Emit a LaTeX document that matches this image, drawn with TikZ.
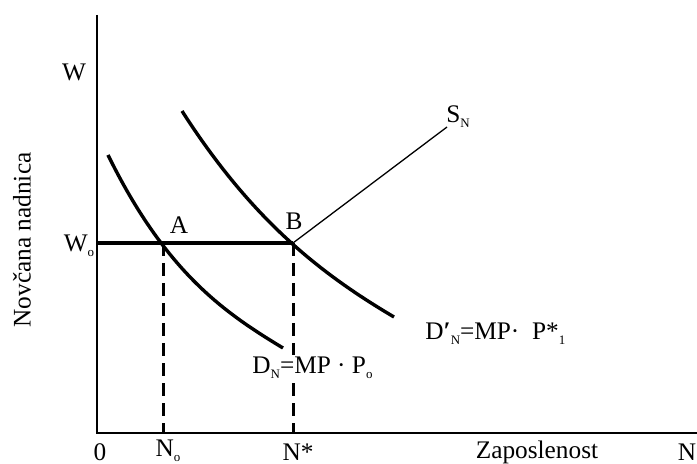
\documentclass[tikz,border=0pt]{standalone}
\usepackage{fontspec}
\setmainfont{Liberation Serif}
\usetikzlibrary{positioning,calc}
\newcommand\subtxt[1]{\raisebox{-0.45ex}{\fontsize{6.5}{6.5}\selectfont #1}}

\begin{document}
\begin{tikzpicture}[
  x=0.5bp, y=-0.5bp,
  font=\fontsize{12.7}{14}\selectfont,
  lbl/.style   = {inner sep=1pt},
  ax/.style    = {line width=1bp},
  dem/.style   = {line width=1.7bp},
  wage/.style  = {line width=2.2bp},
  supl/.style  = {line width=0.65bp},
  guide/.style = {line width=1.5bp, dash pattern=on 6.5bp off 3.5bp},
]
\useasboundingbox (0,0) rectangle (697,464);

% =========================== points ========================================
\coordinate (O)     at (97,433);
\coordinate (ytop)  at (97,15);
\coordinate (xend)  at (697,433);
\coordinate (W0)    at (97,243);
\coordinate (A)     at (163,243);
\coordinate (B)     at (293,243);
\coordinate (No)    at (A|-O);
\coordinate (Ns)    at (B|-O);
\coordinate (snend) at (447,127);

% =========================== axes ==========================================
\draw[ax] (ytop) -- (O) -- (xend);

% =========================== curves ========================================
\draw[guide] (A) -- (No);
\draw[guide] (B) -- (Ns);
\draw[wage] (W0) -- (B);
\draw[dem] (108,155) .. controls (166,273) and (225,313) .. (283,348);
\draw[dem] (182,111) .. controls (253,222) and (323,275) .. (394,317);
\draw[supl] (B) -- (snend);

% =========================== labels ========================================
\node[lbl] (lw)   at (74,72)   {W};
\node[lbl] (lw0)  at (79,246)  {W\subtxt{o}};
\node[lbl] (la)   at (179,225) {A};
\node[lbl] (lb)   at (294,221) {B};
\node[lbl] (lsn)  at (458,117) {S\subtxt{N}};
\node[lbl, fill=white, anchor=west] (ldn) at (250,368)
  {D\subtxt{N}=MP · P\subtxt{o}};
\node[lbl, anchor=west] (ldn1) at (423,334)
  {D{\bfseries\char"2032}\subtxt{N}=MP·\ \ P*\subtxt{1}};

\node[lbl] (l0)   at (100,452) {0};
\node[lbl] (lno)  at (168,451) {N\subtxt{o}};
\node[lbl] (lns)  at (298,452) {N*};
\node[lbl] (lzap) at (537,452) {Zaposlenost};
\node[lbl] (ln)   at (687,452) {N};
\node[lbl, rotate=90] (lnov) at (22,240) {Novčana nadnica};

\end{tikzpicture}
\end{document}
